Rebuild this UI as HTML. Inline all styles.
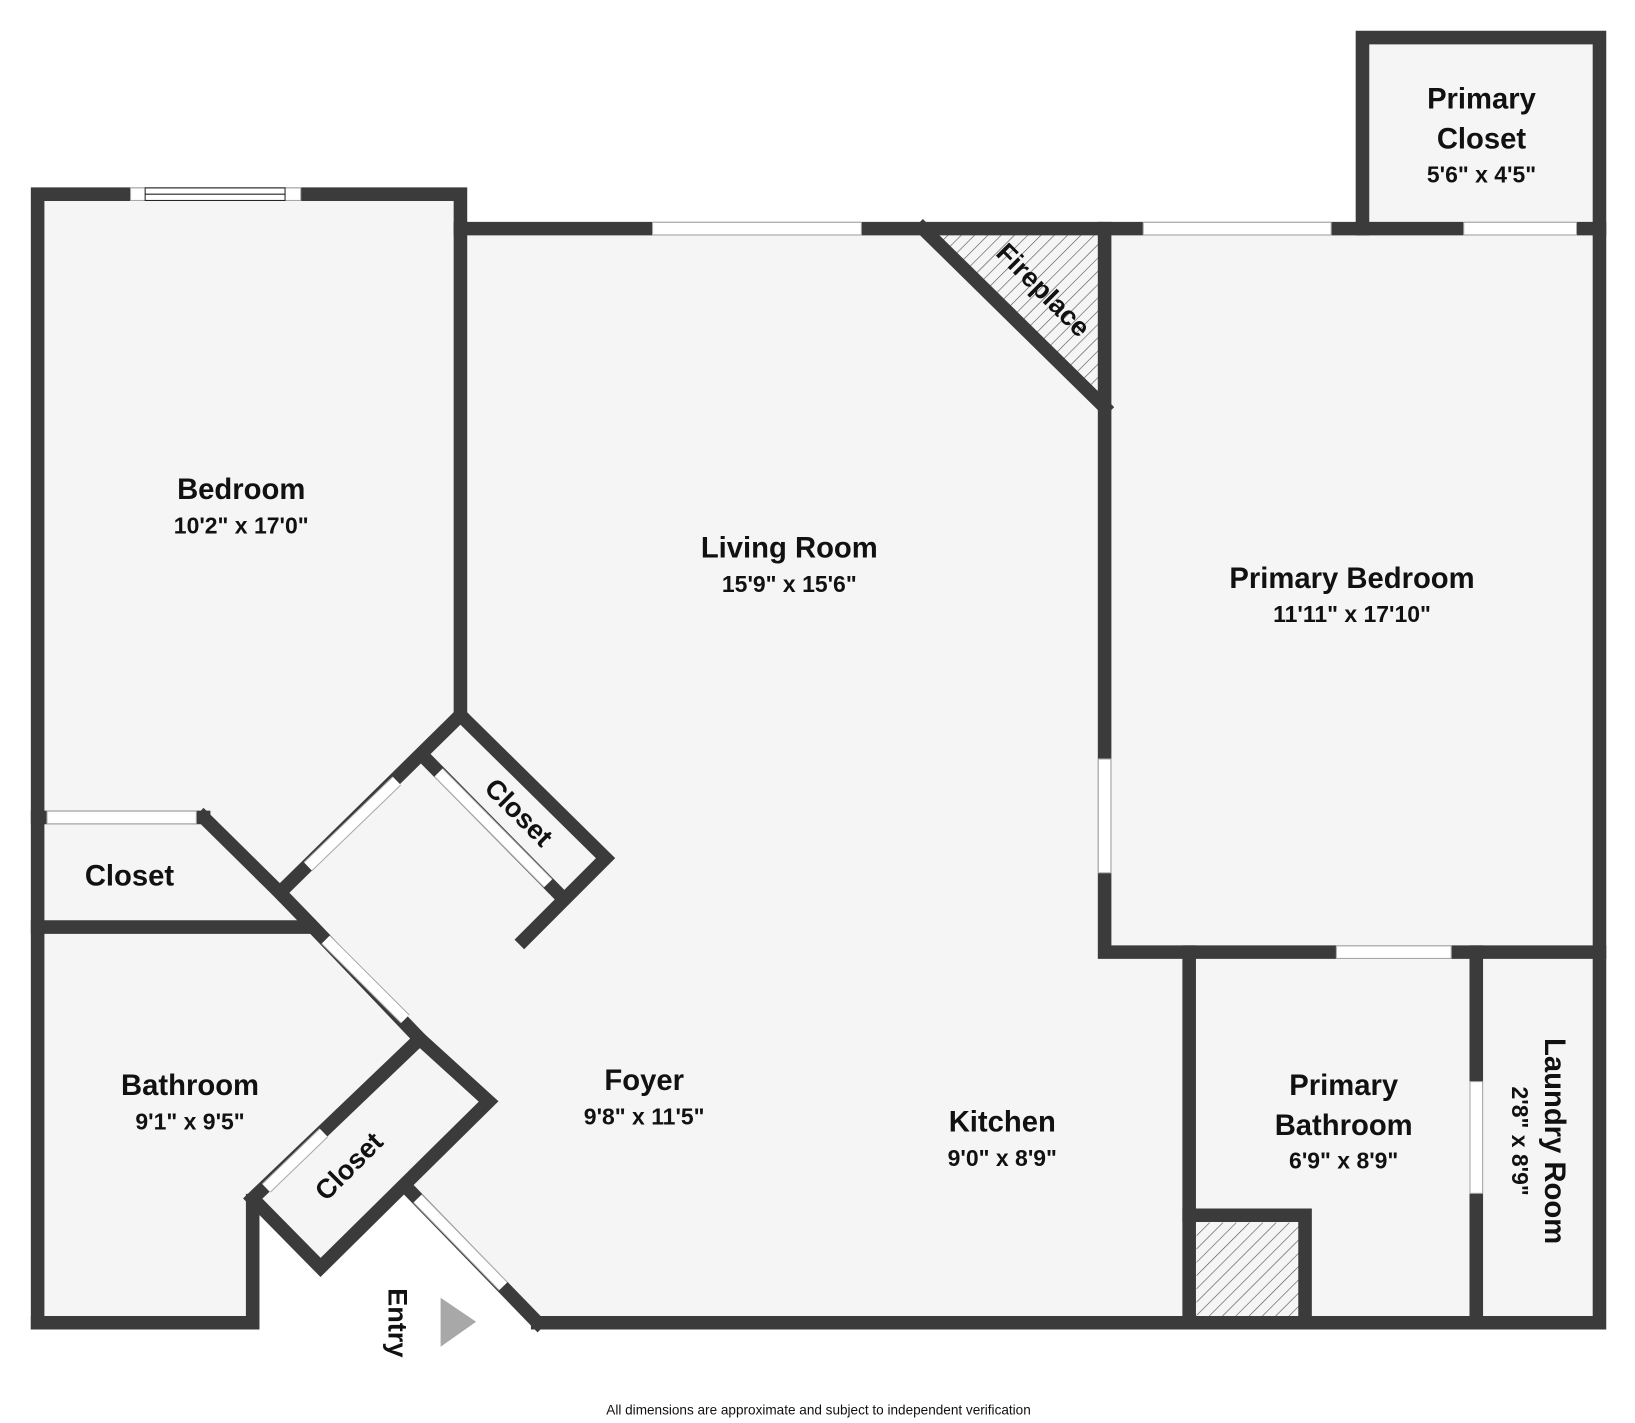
<!DOCTYPE html>
<html><head><meta charset="utf-8"><style>
html,body{margin:0;padding:0;background:#fff;}
svg{display:block;}
text{font-family:"Liberation Sans",sans-serif;font-weight:bold;fill:#111;}
</style></head><body>
<svg width="1635" height="1423" viewBox="0 0 1566 1363" xmlns="http://www.w3.org/2000/svg">
<defs>
<pattern id="h" width="9" height="9" patternUnits="userSpaceOnUse" patternTransform="rotate(45)">
<rect width="9" height="9" fill="#f5f5f5"/><line x1="0" y1="0" x2="0" y2="9" stroke="#555" stroke-width="1.2"/>
</pattern>
</defs>
<rect width="1566" height="1363" fill="#fff"/>
<rect x="36" y="186" width="405" height="1081" fill="#f5f5f5"/>
<rect x="441" y="219" width="1091" height="1048" fill="#f5f5f5"/>
<rect x="1305" y="36" width="227" height="183" fill="#f5f5f5"/>
<polygon points="248,1155 307,1218 392,1138 515,1267 248,1267" fill="#fff"/>
<polygon points="890,225 1052,225 1052,385" fill="url(#h)"/>
<rect x="1146" y="1171" width="98" height="90" fill="url(#h)"/>
<g stroke="#3b3b3b" stroke-width="13" fill="none" stroke-linecap="square" stroke-linejoin="miter">
<polyline points="36,1267 36,186 441,186 441,685"/>
<line x1="441" y1="219" x2="1532" y2="219"/>
<line x1="884" y1="219" x2="1058" y2="390"/>
<polyline points="1058,219 1058,912 1532,912"/>
<polyline points="1305,219 1305,36 1532,36 1532,1267 515,1267"/>
<line x1="1139" y1="912" x2="1139" y2="1267"/>
<line x1="1414" y1="912" x2="1414" y2="1267"/>
<polyline points="1139,1164 1250,1164 1250,1267"/>
<polyline points="36,1267 242,1267 242,1150"/>
<polyline points="242,1148 307,1214 468,1055 402,995 242,1148"/>
<line x1="515" y1="1267" x2="390" y2="1138"/>
<line x1="36" y1="783" x2="195" y2="783"/>
<polyline points="195,783 268,855 300,888 402,995"/>
<line x1="36" y1="888" x2="295" y2="888"/>
<polyline points="441,685 580,822 502,900"/>
<polyline points="441,685 268,855"/>
<line x1="408" y1="727" x2="535" y2="856"/>
</g>
<g fill="#fff" stroke="#aaa" stroke-width="1">
<rect x="125" y="180" width="163" height="12"/>
<rect x="139" y="180" width="134" height="12" stroke="#222"/>
<line x1="139" y1="186" x2="273" y2="186" stroke="#222"/>
<rect x="625" y="213" width="200" height="12"/>
<rect x="1095" y="213" width="180" height="12"/>
<rect x="1402" y="213" width="108" height="12"/>
<rect x="1052" y="727" width="12" height="109"/>
<rect x="1280" y="906" width="110" height="12"/>
<rect x="1408" y="1036" width="12" height="107"/>
<rect x="45" y="777" width="143" height="12"/>
</g>
<g stroke-linecap="butt">
<g stroke="#aaa" stroke-width="12">
<line x1="380" y1="748" x2="295" y2="830"/>
<line x1="420" y1="740" x2="525" y2="846"/>
<line x1="312" y1="900" x2="388" y2="976"/>
<line x1="310" y1="1085" x2="255" y2="1138"/>
<line x1="400" y1="1148" x2="482" y2="1232"/>
</g>
<g stroke="#fff" stroke-width="10">
<line x1="380" y1="748" x2="295" y2="830"/>
<line x1="420" y1="740" x2="525" y2="846"/>
<line x1="312" y1="900" x2="388" y2="976"/>
<line x1="310" y1="1085" x2="255" y2="1138"/>
<line x1="400" y1="1148" x2="482" y2="1232"/>
</g>
</g>
<polygon points="422,1243 456,1266 422,1290" fill="#a8a8a8"/>
<g text-anchor="middle">
<text x="1419" y="104" font-size="28">Primary</text>
<text x="1419" y="142" font-size="28">Closet</text>
<text x="1419" y="175" font-size="22">5'6" x 4'5"</text>
<text x="231" y="478" font-size="28">Bedroom</text>
<text x="231" y="511" font-size="22">10'2" x 17'0"</text>
<text x="756" y="534" font-size="28">Living Room</text>
<text x="756" y="567" font-size="22">15'9" x 15'6"</text>
<text x="1295" y="563" font-size="28">Primary Bedroom</text>
<text x="1295" y="596" font-size="22">11'11" x 17'10"</text>
<text x="124" y="848" font-size="28">Closet</text>
<text x="182" y="1049" font-size="28">Bathroom</text>
<text x="182" y="1082" font-size="22">9'1" x 9'5"</text>
<text x="617" y="1044" font-size="28">Foyer</text>
<text x="617" y="1077" font-size="22">9'8" x 11'5"</text>
<text x="960" y="1084" font-size="28">Kitchen</text>
<text x="960" y="1117" font-size="22">9'0" x 8'9"</text>
<text x="1287" y="1049" font-size="28">Primary</text>
<text x="1287" y="1087" font-size="28">Bathroom</text>
<text x="1287" y="1119" font-size="22">6'9" x 8'9"</text>
<text transform="translate(1480,1093) rotate(90)" font-size="28">Laundry Room</text>
<text transform="translate(1448,1093) rotate(90)" font-size="22">2'8" x 8'9"</text>
<text transform="translate(993,284) rotate(45)" font-size="26">Fireplace</text>
<text transform="translate(497,778) rotate(45)" font-size="26" dy="9">Closet</text>
<text transform="translate(334,1117) rotate(-45)" font-size="26" dy="9">Closet</text>
<text transform="translate(372,1267) rotate(90)" font-size="26">Entry</text>
<text x="784" y="1355" font-size="13" style="font-weight:normal">All dimensions are approximate and subject to independent verification</text>
</g>
</svg>
</body></html>
